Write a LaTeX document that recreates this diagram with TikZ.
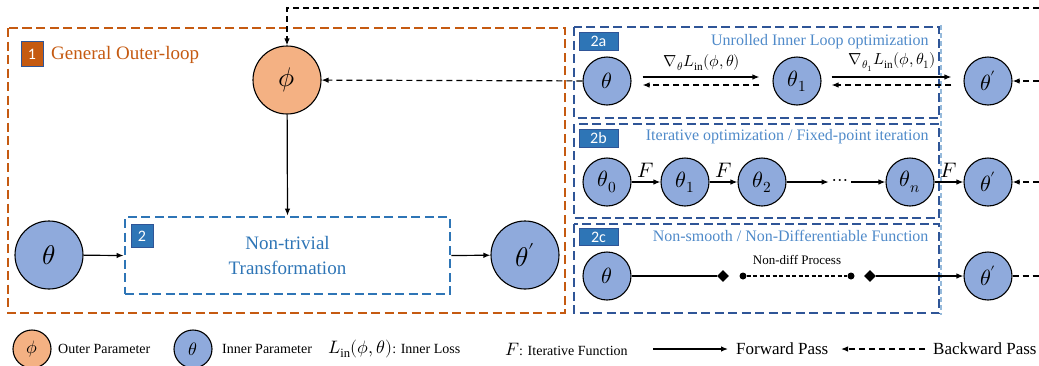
\documentclass[tikz,border=0pt]{standalone}
\usepackage{fontspec}
\usepackage{unicode-math}
\setmainfont{Liberation Serif}
\setmathfont{Latin Modern Math}
\newfontfamily\tagfont{Carlito}
\usetikzlibrary{arrows.meta}
\usetikzlibrary{shapes.geometric}

\definecolor{outerorange}{HTML}{C55A11}
\definecolor{phifill}{HTML}{F4B183}
\definecolor{thetafill}{HTML}{8FAADC}
\definecolor{midblue}{HTML}{2E75B6}
\definecolor{darkblue}{HTML}{2F5597}
\definecolor{titleblue}{HTML}{4F8AC9}

\tikzset{
  param/.style={circle, draw, line width=1.1pt, fill=thetafill, inner sep=0pt},
  bigparam/.style={param, minimum size=68pt, font=\fontsize{27}{27}\selectfont},
  smallparam/.style={param, minimum size=48pt, font=\fontsize{22}{22}\selectfont},
  legparam/.style={param, minimum size=38pt, font=\fontsize{18}{18}\selectfont},
  fwd/.style={-{Latex[length=7pt,width=5.5pt]}, line width=1.2pt},
  bwd/.style={-{Latex[length=7pt,width=5.5pt]}, line width=1.2pt, dash pattern=on 6pt off 4pt},
  tag/.style={draw=darkblue, fill=midblue, text=white, line width=0.6pt,
    font=\tagfont\fontsize{16}{16}\selectfont, inner sep=0pt},
  boxline/.style={line width=2.8pt, dash pattern=on 9pt off 4.5pt},
  title/.style={anchor=east, text=titleblue, font=\fontsize{16}{16}\selectfont},
  legtext/.style={anchor=west, font=\fontsize{14}{14}\selectfont, inner sep=0pt},
}

\begin{document}
\begin{tikzpicture}[x=1pt, y=-1pt]
\useasboundingbox (0,0) rectangle (1039,365);

% general outer loop
\draw[outerorange, boxline] (8,28) rectangle (565,313);
\node[tag, fill=outerorange, minimum width=22pt, minimum height=25pt] (tag_1) at (32,54) {1};
\node[anchor=west, text=outerorange, font=\fontsize{19}{19}\selectfont, inner sep=0pt] (title_1) at (51,55) {General Outer-loop};

\node[bigparam, fill=phifill] (phi) at (287,80) {$\phi$};
\node[bigparam] (theta_l) at (49,255) {$\theta$};
\node[bigparam] (theta_r) at (525,255) {$\theta'$};
\node[draw=midblue, boxline, minimum width=325pt, minimum height=77pt, align=center,
  text=midblue, font=\fontsize{19}{25}\selectfont] (trans) at (287.5,255.5) {Non-trivial\\Transformation};
\node[tag, minimum width=22pt, minimum height=23pt] (tag_2) at (142,236) {2};

\draw[fwd] (phi) -- (trans.north);
\draw[fwd] (theta_l) -- (trans.west);
\draw[fwd] (trans.east) -- (theta_r);

% the three cases
\draw[midblue!50, line width=1.2pt, dash pattern=on 5pt off 3pt] (941,25) -- (941,315);
\foreach \y/\h/\t in {27/118/a, 124/218/b, 224/313/c} {
  \draw[darkblue, boxline] (574,\y) rectangle (939,\h);
}
\node[tag, minimum width=39pt, minimum height=18pt] (tag_a) at (598.5,41) {2a};
\node[tag, minimum width=39pt, minimum height=18pt] (tag_b) at (598.5,138) {2b};
\node[tag, minimum width=39pt, minimum height=17pt] (tag_c) at (598.5,237) {2c};
\node[title] (title_a) at (932,42) {Unrolled Inner Loop optimization};
\node[title] (title_b) at (932,137) {Iterative optimization / Fixed-point iteration};
\node[title] (title_c) at (932,236) {Non-smooth / Non-Differentiable Function};

% 2a
\node[smallparam] (ta_0) at (607,81) {$\theta$};
\node[smallparam] (ta_1) at (797,81) {$\theta_1$};
\node[smallparam] (ta_2) at (988,81) {$\theta'$};
\draw[fwd, shorten <=11pt, shorten >=13pt] ([yshift=4pt]ta_0.east) -- ([yshift=4pt]ta_1.west)
  node[midway, above=2pt, font=\fontsize{16}{16}\selectfont] {$\nabla_{\theta}L_{\mathrm{in}}(\phi,\theta)$};
\draw[bwd, shorten <=13pt, shorten >=11pt] ([yshift=-4pt]ta_1.west) -- ([yshift=-4pt]ta_0.east);
\draw[fwd, shorten <=10pt, shorten >=12pt] ([yshift=4pt]ta_1.east) -- ([yshift=4pt]ta_2.west)
  node[midway, above=2pt, font=\fontsize{16}{16}\selectfont] {$\nabla_{\theta_1}L_{\mathrm{in}}(\phi,\theta_1)$};
\draw[bwd, shorten <=12pt, shorten >=10pt] ([yshift=-4pt]ta_2.west) -- ([yshift=-4pt]ta_1.east);

% 2b
\foreach \i/\x/\s in {0/607/\theta_0, 1/685/\theta_1, 2/762/\theta_2, 3/910/\theta_n, 4/988/\theta'} {
  \node[smallparam] (tb_\i) at (\x,182) {$\s$};
}
\node[font=\fontsize{20}{20}\selectfont] (dots) at (840,182) {$\cdots$};
\foreach \i/\j in {0/1, 1/2, 3/4} {
  \draw[fwd] (tb_\i) -- (tb_\j) node[midway, above=1pt, font=\fontsize{21}{21}\selectfont] {$F$};
}
\draw[fwd] (tb_2) -- (dots);
\draw[fwd] (dots) -- (tb_3);

% 2c
\node[smallparam] (tc_0) at (607,276) {$\theta$};
\node[smallparam] (tc_1) at (988,276) {$\theta'$};
\node[diamond, fill, inner sep=0pt, minimum size=12pt] (dm_l) at (723,276) {};
\node[diamond, fill, inner sep=0pt, minimum size=12pt] (dm_r) at (870,276) {};
\node[circle, fill, inner sep=0pt, minimum size=7pt] (dt_l) at (743,276) {};
\node[circle, fill, inner sep=0pt, minimum size=7pt] (dt_r) at (851,276) {};
\node[font=\fontsize{13}{13}\selectfont] (nondiff) at (797,260) {Non-diff Process};
\draw[line width=1.2pt] (tc_0) -- (dm_l);
\draw[line width=1.1pt, dash pattern=on 4pt off 2.5pt] (dt_l) -- (dt_r);
\draw[fwd] (dm_r) -- (tc_1);

% backward passes
\coordinate (top_r) at (1039,8);
\coordinate (top_l) at (287,8);
\coordinate (edge_a) at (1039,81);
\coordinate (edge_b) at (1039,182);
\coordinate (edge_c) at (1039,276);
\draw[bwd] (top_r) -- (top_l) -- (phi);
\draw[bwd] (ta_0) -- (phi);
\draw[bwd] (edge_a) -- (ta_2);
\draw[bwd] (edge_b) -- (tb_4);
\draw[line width=1.2pt, dash pattern=on 6pt off 4pt] (tc_1) -- (edge_c);

% legend
\node[legparam, fill=phifill] (lg_phi) at (32,349) {$\phi$};
\node[legtext] (lg_outer) at (58,349) {Outer Parameter};
\node[legparam] (lg_theta) at (193,349) {$\theta$};
\node[legtext] (lg_inner) at (222,349) {Inner Parameter};
\node[legtext] (lg_loss) at (328,349) {{\fontsize{18}{18}\selectfont$L_{\mathrm{in}}(\phi,\theta)$}: Inner Loss};
\node[legtext] (lg_iter) at (505,349) {{\fontsize{18}{18}\selectfont$F$}: Iterative Function};
\coordinate (lg_f0) at (653,349);
\coordinate (lg_f1) at (728,349);
\draw[fwd] (lg_f0) -- (lg_f1);
\node[legtext, font=\fontsize{17}{17}\selectfont] (lg_fwd) at (736,349) {Forward Pass};
\coordinate (lg_b0) at (925,349);
\coordinate (lg_b1) at (841,349);
\draw[bwd] (lg_b0) -- (lg_b1);
\node[legtext, font=\fontsize{17}{17}\selectfont] (lg_bwd) at (933,349) {Backward Pass};
\end{tikzpicture}
\end{document}
